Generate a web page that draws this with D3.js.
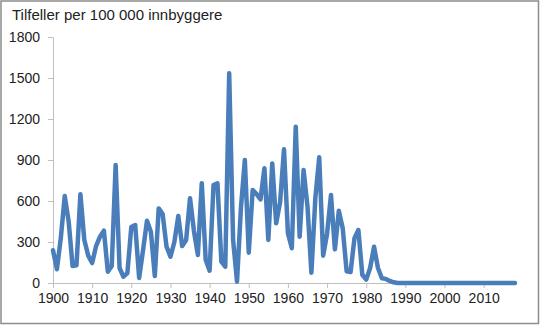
<!DOCTYPE html>
<html>
<head>
<meta charset="utf-8">
<script src="https://cdn.jsdelivr.net/npm/d3@7"></script>
<style>
  html, body { margin: 0; padding: 0; background: #fff; }
  svg { display: block; font-family: "Liberation Sans", Arial, sans-serif; }
</style>
</head>
<body>
<svg id="chart" width="540" height="325"></svg>
<script>
// years 1900..2018, cases per 100 000
const startYear = 1900;
const cases = [
  240, 100, 330, 636, 450, 124, 130, 650, 315, 200,
  146, 270, 339, 383, 83, 124, 863, 110, 46, 73,
  410, 424, 37, 240, 456, 375, 51, 546, 505, 266,
  192, 300, 490, 270, 315, 620, 380, 205, 730, 168,
  90, 717, 730, 156, 119, 1534, 315, 10, 550, 900,
  222, 680, 650, 612, 840, 315, 875, 437, 590, 978,
  364, 254, 1143, 339, 827, 560, 75, 620, 920, 200,
  360, 644, 246, 529, 400, 85, 80, 327, 388, 60,
  25, 110, 265, 110, 35, 30, 15, 5, 0, 0,
  0, 0, 0, 0, 0, 0, 0, 0, 0, 0,
  0, 0, 0, 0, 0, 0, 0, 0, 0, 0,
  0, 0, 0, 0, 0, 0, 0, 0, 0
];
const years = cases.map((_, i) => startYear + i);
const xTicks = [1900, 1910, 1920, 1930, 1940, 1950, 1960, 1970, 1980, 1990, 2000, 2010];
const yTicks = [0, 300, 600, 900, 1200, 1500, 1800];
const yTitle = 'Tilfeller per 100 000 innbyggere';

const svg = d3.select('#chart');
const W = 540, H = 325;
const plotLeft = 53, plotRight = 515, plotTop = 37, plotBottom = 283;
const labelFont = '"Liberation Sans", Arial, sans-serif';

svg.append('rect')
  .attr('x', 1).attr('y', 1)
  .attr('width', W - 2.5).attr('height', H - 2.5)
  .attr('fill', '#fff')
  .attr('stroke', '#8c8c8c')
  .attr('stroke-width', 1.5);

const x = d3.scaleLinear().domain([1900, 2018]).range([plotLeft, plotRight]);
const y = d3.scaleLinear().domain([0, 1800]).range([plotBottom, plotTop]);

// y axis
const yAxis = svg.append('g')
  .attr('transform', `translate(${plotLeft},0)`)
  .call(d3.axisLeft(y).tickValues(yTicks).tickFormat(d3.format('d')).tickSize(5).tickPadding(8));
yAxis.select('.domain').attr('stroke', '#bfbfbf');
yAxis.selectAll('.tick line').attr('stroke', '#bfbfbf');
yAxis.selectAll('.tick text')
  .attr('font-size', 14).attr('fill', '#222')
  .attr('font-family', labelFont);

// x axis
const xAxis = svg.append('g')
  .attr('transform', `translate(0,${plotBottom})`)
  .call(d3.axisBottom(x).tickValues(xTicks).tickFormat(d3.format('d')).tickSize(5).tickPadding(5).tickSizeOuter(0));
xAxis.select('.domain').attr('stroke', '#bfbfbf').attr('d', `M${plotLeft},0.5H${plotRight + 2}`);
xAxis.selectAll('.tick line').attr('stroke', '#bfbfbf');
xAxis.selectAll('.tick text')
  .attr('font-size', 14).attr('fill', '#222')
  .attr('font-family', labelFont);

svg.append('text')
  .attr('x', 12).attr('y', 20)
  .attr('font-size', 15).attr('fill', '#222')
  .attr('font-family', labelFont)
  .text(yTitle);

const line = d3.line()
  .x((d, i) => x(years[i]))
  .y(d => y(d));

svg.append('path')
  .datum(cases)
  .attr('fill', 'none')
  .attr('stroke', '#4a7ebb')
  .attr('stroke-width', 4.5)
  .attr('stroke-linejoin', 'round')
  .attr('stroke-linecap', 'round')
  .attr('d', line);
</script>
</body>
</html>
